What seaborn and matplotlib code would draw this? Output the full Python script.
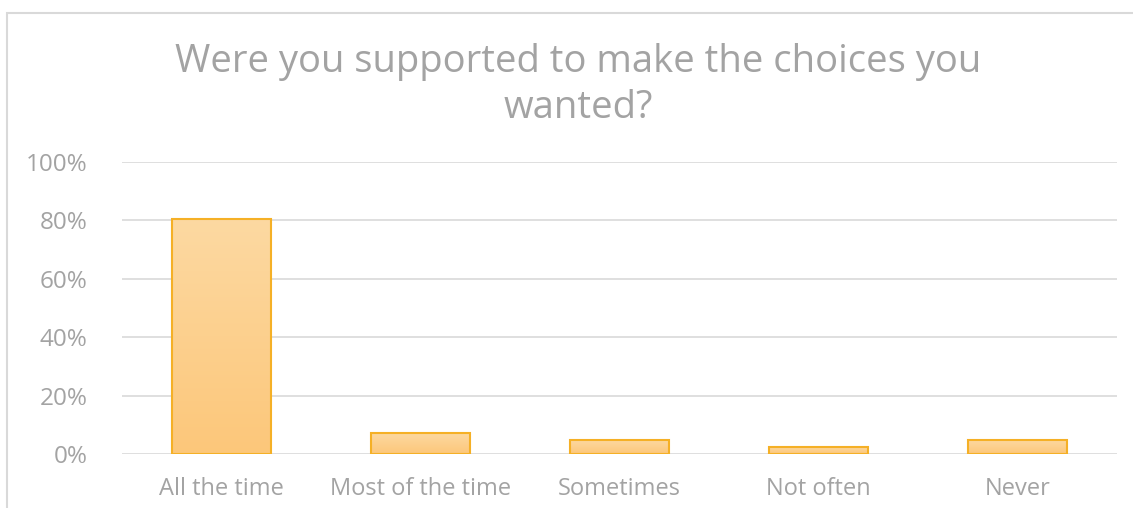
import numpy as np
import pandas as pd
import matplotlib
matplotlib.use("Agg")
import matplotlib.pyplot as plt
import seaborn as sns
from matplotlib.patches import Rectangle
from matplotlib.colors import LinearSegmentedColormap

categories = ["All the time", "Most of the time", "Sometimes", "Not often", "Never"]
values = [80.5, 7.3, 4.9, 2.4, 4.9]
yticks = [0, 20, 40, 60, 80, 100]
ytick_labels = ["0%", "20%", "40%", "60%", "80%", "100%"]
title = "Were you supported to make the choices you\nwanted?"

sns.set_theme(style="white")
plt.rcParams['font.family'] = ['Open Sans', 'DejaVu Sans']
plt.rcParams['font.weight'] = 'normal'

W, H = 1133, 508
fig = plt.figure(figsize=(W / 100, H / 100), dpi=100)
fig.patch.set_facecolor("white")

# outer chart border (extends past right/bottom edges)
fig.patches.append(Rectangle((7 / W, -0.1), 1.2, (H - 13) / H + 0.1,
                             transform=fig.transFigure, fill=False,
                             edgecolor="#d9d9d9", linewidth=1.5))

ax = fig.add_axes([122 / W, 1 - 454.3 / H, (1117 - 122) / W, (454.3 - 162) / H])
df = pd.DataFrame({"cat": categories, "val": values})
sns.barplot(data=df, x="cat", y="val", ax=ax, color="#FCCF8C", width=0.5,
            edgecolor="#F5B026", linewidth=1.5, zorder=3)

# gradient fill on each bar
cmap = LinearSegmentedColormap.from_list("g", ["#FCC77A", "#FDD9A2"])
grad = np.linspace(0, 1, 256).reshape(-1, 1)
for p in ax.patches:
    x0, y0 = p.get_x(), p.get_y()
    w, h = p.get_width(), p.get_height()
    im = ax.imshow(grad, cmap=cmap, aspect="auto", origin="lower",
                   extent=[x0, x0 + w, y0, y0 + h], zorder=2.5)
    im.set_clip_path(p)
    p.set_facecolor("none")

ax.set_xlim(-0.5, len(categories) - 0.5)
ax.set_ylim(0, 100)
ax.set_yticks(yticks)
ax.set_yticklabels(ytick_labels)
ax.yaxis.grid(True, color="#dcdcdc", linewidth=1.3, zorder=0)
ax.set_axisbelow(True)
for s in ["top", "right", "left", "bottom"]:
    ax.spines[s].set_visible(False)
ax.set_xlabel("")
ax.set_ylabel("")
ax.tick_params(axis="y", length=0, pad=25, labelsize=17.5, labelcolor="#a3a3a3")
ax.tick_params(axis="x", length=0, pad=16, labelsize=17, labelcolor="#a3a3a3")

fig.text(578 / W, 1 - 85 / H, title, ha="center", va="center",
         fontsize=27.5, color="#a3a3a3", linespacing=1.28)

fig.savefig("out.png", dpi=100)
